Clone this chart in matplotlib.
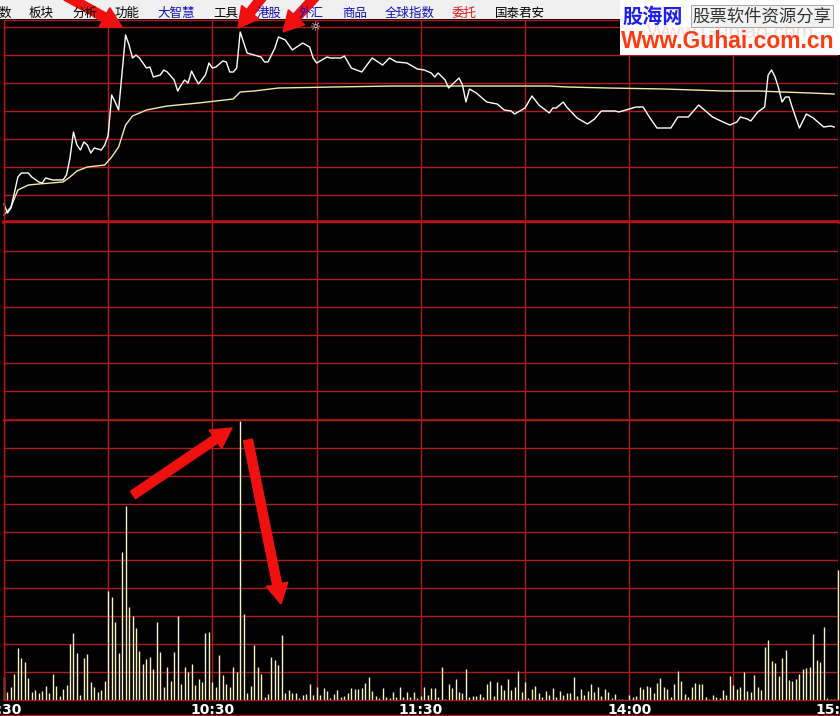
import matplotlib
matplotlib.use('Agg')
import matplotlib.pyplot as plt
from matplotlib.patches import FancyArrow, Rectangle
from matplotlib.transforms import IdentityTransform
import numpy as np

# 分时图数据: 分钟序号 (0 = 9:30, 120 = 11:30/13:00, 240 = 15:00)
price_min = [0, 1, 2, 4, 5, 7, 8, 10, 11, 12, 14, 17, 18, 19, 20, 21, 22, 23, 24, 25,
             26, 28, 29, 30, 31, 32, 33, 35, 36, 37, 38, 39, 41, 42, 43, 45, 46, 47, 49, 50,
             51, 52, 53, 54, 55, 56, 58, 59, 60, 61, 63, 64, 65, 66, 67, 68, 70, 72, 74, 75,
             76, 78, 79, 81, 83, 86, 88, 89, 90, 93, 94, 97, 98, 100, 103, 106, 109, 111, 113, 116,
             119, 121, 123, 124, 125, 127, 128, 131, 132, 133, 134, 136, 139, 142, 144, 146, 147, 150, 152, 154,
             157, 158, 159, 161, 162, 165, 168, 170, 172, 176, 177, 179, 182, 184, 186, 188, 192, 194, 197, 200,
             201, 204, 207, 209, 211, 212, 214, 215, 217, 219, 220, 221, 222, 223, 224, 225, 226, 227, 229, 231,
             233, 236, 238, 239]
price = [17, 8, 13, 44, 48, 48, 44, 39, 38, 43, 41, 41, 46, 63, 89, 76, 71, 79, 76, 68,
         73, 71, 76, 86, 126, 119, 111, 186, 176, 163, 166, 163, 153, 154, 144, 146, 151, 149, 141, 130,
         136, 141, 138, 150, 143, 137, 146, 158, 153, 154, 160, 159, 149, 149, 153, 189, 168, 166, 164, 159,
         159, 173, 184, 181, 171, 178, 174, 163, 158, 164, 163, 163, 165, 153, 149, 163, 156, 163, 159, 158,
         152, 151, 148, 144, 148, 141, 133, 143, 136, 119, 132, 128, 119, 117, 111, 110, 107, 113, 125, 116,
         108, 113, 113, 119, 114, 103, 97, 102, 110, 110, 109, 111, 114, 114, 103, 93, 93, 104, 104, 116,
         113, 104, 99, 96, 99, 104, 102, 100, 109, 114, 146, 151, 144, 133, 119, 124, 124, 113, 93, 107,
         103, 94, 95, 94]

avg_min = [0, 2, 4, 7, 10, 17, 19, 21, 24, 29, 31, 33, 35, 37, 41, 47, 56, 66, 68, 72,
           79, 95, 112, 144, 157, 162, 174, 190, 207, 217, 232, 239]
avg_price = [6, 14, 31, 36, 37, 39, 44, 50, 54, 56, 64, 74, 96, 105, 111, 115, 118, 122, 129, 130,
             133, 134, 135, 135, 135, 134, 133, 132, 130, 130, 128, 127]

volume = [23, 8, 13, 26, 52, 42, 38, 22, 8, 10, 7, 9, 14, 7, 26, 14, 4, 11, 15, 56,
          67, 47, 5, 42, 46, 18, 13, 8, 10, 19, 109, 103, 78, 47, 148, 194, 93, 84, 72, 49,
          36, 41, 43, 31, 78, 48, 13, 33, 19, 48, 84, 16, 33, 28, 36, 15, 21, 18, 67, 68,
          18, 13, 45, 25, 16, 13, 33, 28, 279, 86, 7, 14, 55, 33, 26, 3, 6, 43, 40, 35,
          65, 7, 10, 7, 7, 2, 5, 6, 16, 5, 13, 5, 12, 9, 2, 6, 10, 3, 4, 7,
          12, 11, 11, 12, 17, 23, 9, 4, 2, 12, 3, 2, 8, 3, 13, 3, 8, 3, 8, 2,
          4, 13, 5, 12, 12, 3, 33, 1, 16, 12, 21, 8, 7, 31, 3, 4, 4, 6, 3, 16,
          19, 4, 18, 15, 10, 21, 10, 13, 29, 8, 18, 2, 11, 14, 7, 3, 9, 5, 12, 3,
          9, 5, 7, 7, 23, 4, 11, 5, 9, 16, 8, 13, 4, 11, 8, 2, 6, 1, 1, 0,
          5, 3, 4, 13, 11, 14, 13, 7, 17, 22, 13, 11, 3, 16, 29, 19, 6, 3, 13, 17,
          16, 16, 3, 1, 5, 3, 2, 10, 5, 24, 15, 11, 13, 28, 9, 8, 25, 13, 10, 53,
          60, 39, 37, 24, 42, 50, 20, 19, 21, 26, 31, 32, 33, 66, 40, 38, 73, 2, 1, 1,
          130]
vol_min = list(range(len(volume)))

time_ticks = [0, 30, 60, 90, 120, 150, 180, 210, 240]
time_labels = ['9:30', '', '10:30', '', '11:30', '', '14:00', '', '15:00']

menu_items = ['数', '板块', '分析', '功能', '大智慧', '工具', '港股', '外汇', '商品', '全球指数', '委托', '国泰君安']
menu_x = [-1, 29, 72, 115, 157, 213, 257, 299, 342, 385, 452, 495]
menu_colors = ['#000000', '#000000', '#000000', '#000000', '#1010C0', '#000000', '#1010C0',
               '#1010C0', '#1010C0', '#1010C0', '#D81818', '#000000']

GRID = '#B01C1C'
CJK = ['Noto Sans CJK SC', 'DejaVu Sans']
W, H = 840, 716

fig = plt.figure(figsize=(W / 100, H / 100), dpi=100, facecolor='black')


def frac(y_top, y_bot):
    return [4 / W, 1 - y_bot / H, 833.6 / W, (y_bot - y_top) / H]


ax_p = fig.add_axes(frac(19.5, 221.5))
ax_m = fig.add_axes(frac(221.5, 420))
ax_v = fig.add_axes(frac(420, 700))

for ax, ylim, yt in [(ax_p, (-0.5, 201.5), np.arange(26, 200, 28)),
                     (ax_m, (0, 198.5), np.arange(29, 190, 28)),
                     (ax_v, (0, 280), np.arange(28, 280, 28))]:
    ax.set_facecolor('black')
    ax.set_xlim(0, 240)
    ax.set_ylim(*ylim)
    ax.set_yticks(yt)
    ax.set_xticks(time_ticks)
    ax.grid(True, color=GRID, linewidth=1.0)
    ax.tick_params(length=0, labelleft=False, labelbottom=False)
    for s in ax.spines.values():
        s.set_color(GRID)
        s.set_linewidth(1.0)
    ax.spines['right'].set_visible(False)

ax_p.spines['bottom'].set_linewidth(2.6)
ax_p.spines['bottom'].set_color('#C00C0C')
ax_m.spines['bottom'].set_linewidth(1.8)
ax_m.spines['bottom'].set_color('#C01414')

# 价格线和均价线
ax_p.plot(avg_min, avg_price, color='#F2EBA8', lw=1.0, clip_on=False)
ax_p.plot(price_min, price, color='white', lw=1.0, clip_on=False)

# 成交量
ax_v.vlines(vol_min, 0, volume, color='#F8F3C4', lw=1.0, clip_on=False)

ax_v.set_xticklabels(time_labels)
ax_v.tick_params(labelbottom=True, pad=2, labelcolor='white')
for lbl in ax_v.get_xticklabels():
    lbl.set_fontweight('bold')
    lbl.set_fontsize(10)

# 底部红线
fig.add_artist(plt.Line2D([0, 1], [1 - 715 / H, 1 - 715 / H], color=GRID, lw=1.0))

# 顶部菜单栏
fig.add_artist(Rectangle((0, 1 - 19 / H), 1, 19 / H, facecolor='#F0F0F0', edgecolor='none'))
for name, x, c in zip(menu_items, menu_x, menu_colors):
    fig.text(x / W, 1 - 13 / H, name, color=c, fontsize=9, family=CJK, va='center', ha='left')

# 水印
fig.add_artist(Rectangle((620 / W, 1 - 55 / H), 220 / W, 55 / H, facecolor='white', edgecolor='none'))
fig.text(730 / W, 1 - 33 / H, 'Www.Gupiao.com', color='#F6DCDC', fontsize=15,
         family='Liberation Sans', ha='center', va='center')
fig.text(622 / W, 1 - 16 / H, '股海网', color='#1E1EF0', fontsize=14.5, fontweight='bold',
         family=CJK, ha='left', va='center')
fig.text(762 / W, 1 - 16 / H, '股票软件资源分享', color='#333333', fontsize=12.5,
         family=CJK, ha='center', va='center',
         bbox=dict(boxstyle='square,pad=0.1', facecolor='#F2F2F2', edgecolor='#999999', lw=0.6))
fig.text(728 / W, 1 - 41 / H, 'Www.Guhai.com.cn', color='#FF3A10', fontsize=16.5, fontweight='bold',
         family='Liberation Sans', ha='center', va='center')

fig.text(316 / W, 1 - 28 / H, '☼', color='white', fontsize=9, fontweight='bold',
         ha='center', va='center')

# 红色箭头 (像素坐标, 原点左上)
arrows = [((66, -4), (122, 27)), ((263, -4), (238, 28)), ((316, -4), (283, 32)),
          ((133, 495), (232, 428)), ((248, 440), (281, 604))]
for (x0, y0), (x1, y1) in arrows:
    dx, dy = x1 - x0, -(y1 - y0)
    fig.add_artist(FancyArrow(x0, H - y0, dx, dy, width=9, head_width=22, head_length=20,
                              length_includes_head=True, color='#F01010', transform=IdentityTransform()))

fig.savefig('out.png', dpi=100, facecolor='black')
